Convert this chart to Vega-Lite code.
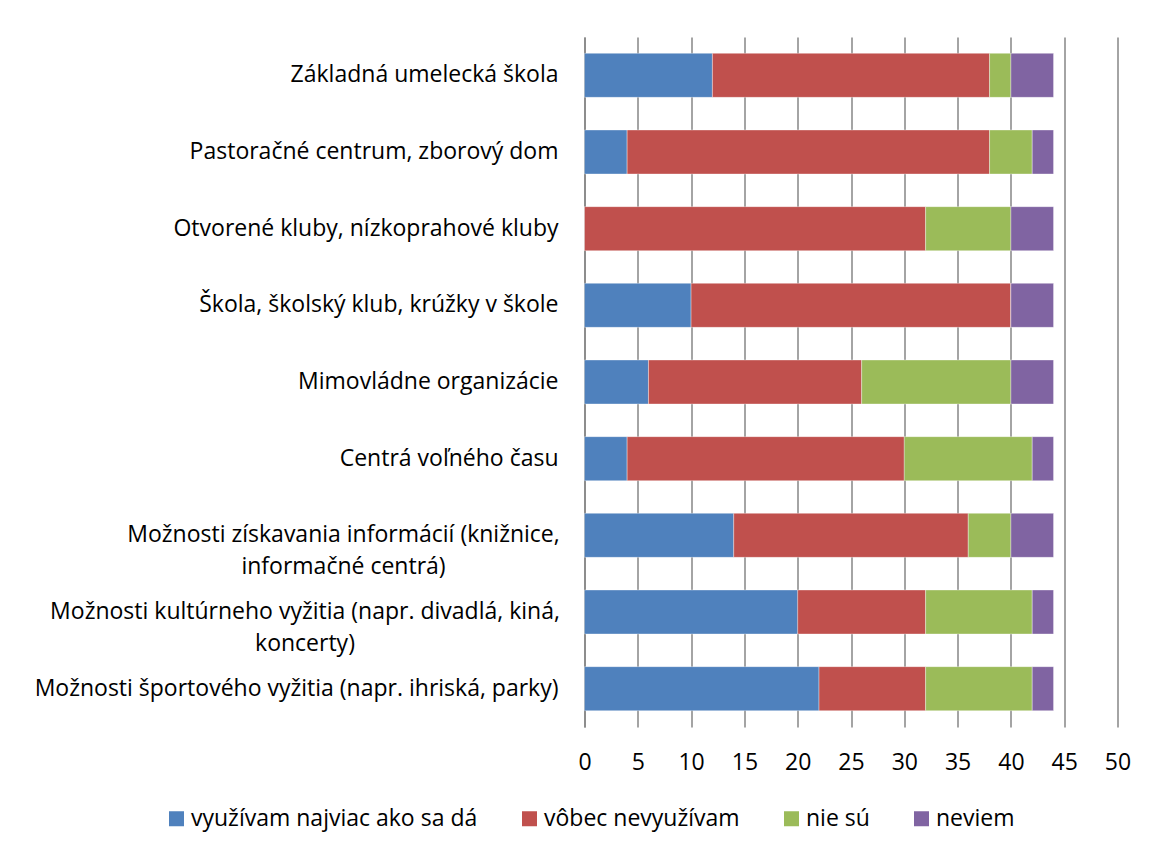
{
  "$schema": "https://vega.github.io/schema/vega-lite/v6.json",
  "autosize": "none",
  "width": 533,
  "height": 690,
  "padding": {"left": 584.5, "top": 37, "right": 40.5, "bottom": 125},
  "background": "white",
  "config": {
    "view": {"stroke": null},
    "font": "Open Sans",
    "axis": {"labelFont": "Open Sans", "labelColor": "#000000", "labelFontSize": 23},
    "legend": {"labelFont": "Open Sans", "labelColor": "#000000", "labelFontSize": 23}
  },
  "data": {
    "values": [
      {"k": "Základná umelecká škola", "s": "využívam najviac ako sa dá", "v": 12},
      {"k": "Základná umelecká škola", "s": "vôbec nevyužívam", "v": 26},
      {"k": "Základná umelecká škola", "s": "nie sú", "v": 2},
      {"k": "Základná umelecká škola", "s": "neviem", "v": 4},
      {"k": "Pastoračné centrum, zborový dom", "s": "využívam najviac ako sa dá", "v": 4},
      {"k": "Pastoračné centrum, zborový dom", "s": "vôbec nevyužívam", "v": 34},
      {"k": "Pastoračné centrum, zborový dom", "s": "nie sú", "v": 4},
      {"k": "Pastoračné centrum, zborový dom", "s": "neviem", "v": 2},
      {"k": "Otvorené kluby, nízkoprahové kluby", "s": "využívam najviac ako sa dá", "v": 0},
      {"k": "Otvorené kluby, nízkoprahové kluby", "s": "vôbec nevyužívam", "v": 32},
      {"k": "Otvorené kluby, nízkoprahové kluby", "s": "nie sú", "v": 8},
      {"k": "Otvorené kluby, nízkoprahové kluby", "s": "neviem", "v": 4},
      {"k": "Škola, školský klub, krúžky v škole", "s": "využívam najviac ako sa dá", "v": 10},
      {"k": "Škola, školský klub, krúžky v škole", "s": "vôbec nevyužívam", "v": 30},
      {"k": "Škola, školský klub, krúžky v škole", "s": "nie sú", "v": 0},
      {"k": "Škola, školský klub, krúžky v škole", "s": "neviem", "v": 4},
      {"k": "Mimovládne organizácie", "s": "využívam najviac ako sa dá", "v": 6},
      {"k": "Mimovládne organizácie", "s": "vôbec nevyužívam", "v": 20},
      {"k": "Mimovládne organizácie", "s": "nie sú", "v": 14},
      {"k": "Mimovládne organizácie", "s": "neviem", "v": 4},
      {"k": "Centrá voľného času", "s": "využívam najviac ako sa dá", "v": 4},
      {"k": "Centrá voľného času", "s": "vôbec nevyužívam", "v": 26},
      {"k": "Centrá voľného času", "s": "nie sú", "v": 12},
      {"k": "Centrá voľného času", "s": "neviem", "v": 2},
      {"k": "Možnosti získavania informácií (knižnice, informačné centrá)", "s": "využívam najviac ako sa dá", "v": 14},
      {"k": "Možnosti získavania informácií (knižnice, informačné centrá)", "s": "vôbec nevyužívam", "v": 22},
      {"k": "Možnosti získavania informácií (knižnice, informačné centrá)", "s": "nie sú", "v": 4},
      {"k": "Možnosti získavania informácií (knižnice, informačné centrá)", "s": "neviem", "v": 4},
      {"k": "Možnosti kultúrneho vyžitia (napr. divadlá, kiná, koncerty)", "s": "využívam najviac ako sa dá", "v": 20},
      {"k": "Možnosti kultúrneho vyžitia (napr. divadlá, kiná, koncerty)", "s": "vôbec nevyužívam", "v": 12},
      {"k": "Možnosti kultúrneho vyžitia (napr. divadlá, kiná, koncerty)", "s": "nie sú", "v": 10},
      {"k": "Možnosti kultúrneho vyžitia (napr. divadlá, kiná, koncerty)", "s": "neviem", "v": 2},
      {"k": "Možnosti športového vyžitia (napr. ihriská, parky)", "s": "využívam najviac ako sa dá", "v": 22},
      {"k": "Možnosti športového vyžitia (napr. ihriská, parky)", "s": "vôbec nevyužívam", "v": 10},
      {"k": "Možnosti športového vyžitia (napr. ihriská, parky)", "s": "nie sú", "v": 10},
      {"k": "Možnosti športového vyžitia (napr. ihriská, parky)", "s": "neviem", "v": 2}
    ]
  },
  "transform": [
    {"calculate": "indexof(['využívam najviac ako sa dá','vôbec nevyužívam','nie sú','neviem'], datum.s)", "as": "o"}
  ],
  "mark": {"type": "bar", "stroke": "#ffffff", "strokeWidth": 0.6, "strokeOpacity": 0.6},
  "encoding": {
    "y": {
      "field": "k",
      "type": "nominal",
      "sort": null,
      "scale": {"paddingInner": 0.426, "paddingOuter": 0.213},
      "axis": {
        "title": null,
        "ticks": false,
        "grid": false,
        "domainColor": "#868686",
        "domainWidth": 1.5,
        "labelLimit": 600,
        "labelLineHeight": 32,
        "labelAlign": {
          "condition": {"test": "indexof(datum.value, 'Možnosti z') == 0 || indexof(datum.value, 'Možnosti k') == 0", "value": "center"},
          "value": "right"
        },
        "labelPadding": {
          "condition": [
            {"test": "indexof(datum.value, 'Možnosti z') == 0", "value": 241.5},
            {"test": "indexof(datum.value, 'Možnosti k') == 0", "value": 280}
          ],
          "value": 26.5
        },
        "labelExpr": "datum.value == 'Možnosti získavania informácií (knižnice, informačné centrá)' ? ['Možnosti získavania informácií (knižnice,', 'informačné centrá)'] : datum.value == 'Možnosti kultúrneho vyžitia (napr. divadlá, kiná, koncerty)' ? ['Možnosti kultúrneho vyžitia (napr. divadlá, kiná,', 'koncerty)'] : datum.value"
      }
    },
    "x": {
      "field": "v",
      "type": "quantitative",
      "stack": "zero",
      "scale": {"domain": [0, 50], "nice": false},
      "axis": {
        "title": null,
        "values": [0, 5, 10, 15, 20, 25, 30, 35, 40, 45, 50],
        "domain": false,
        "ticks": false,
        "grid": true,
        "gridColor": "#868686",
        "gridWidth": 1.5,
        "labelPadding": 24,
        "labelFlush": false
      }
    },
    "color": {
      "field": "s",
      "type": "nominal",
      "scale": {
        "domain": ["využívam najviac ako sa dá", "vôbec nevyužívam", "nie sú", "neviem"],
        "range": ["#4F81BD", "#C0504D", "#9BBB59", "#8064A2"]
      },
      "legend": {
        "title": null,
        "orient": "none",
        "direction": "horizontal",
        "legendX": -419.5,
        "legendY": 770,
        "padding": 0,
        "symbolType": "square",
        "symbolSize": 225,
        "symbolStrokeWidth": 0,
        "symbolOpacity": 1,
        "labelOffset": 3,
        "columnPadding": 40,
        "labelLimit": 600
      }
    },
    "order": {"field": "o", "type": "quantitative"}
  }
}
